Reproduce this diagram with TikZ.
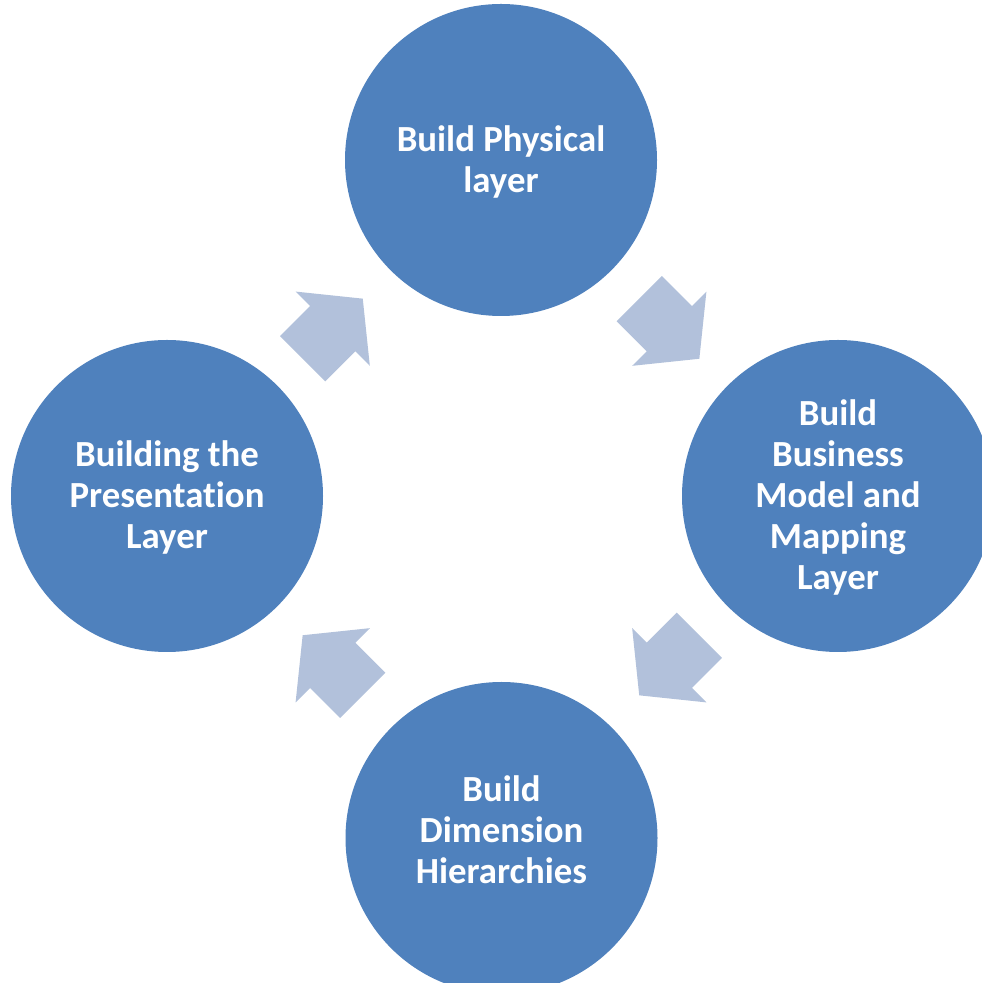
\documentclass[tikz,border=0pt]{standalone}
\usepackage{fontspec}
\setmainfont{Carlito}[Ligatures=NoCommon]
\usetikzlibrary{calc}
\definecolor{stageblue}{HTML}{4F81BD}
\definecolor{flowblue}{HTML}{B2C1DB}
\begin{document}
\begin{tikzpicture}[x=1pt,y=1pt,
  stage/.style={circle, fill=stageblue, draw=none, minimum size=312pt, inner sep=0pt},
  stagetext/.style={text=white, align=center, font=\fontsize{36.8}{41}\selectfont\bfseries, inner sep=0pt},
  flowarrow/.style={fill=flowblue, draw=none}]
\useasboundingbox (0,0) rectangle (982,983);
\clip (0,0) rectangle (982,983);
\fill[white] (0,0) rectangle (982,983);

% cycle centre
\coordinate (hub) at (501,486);

% the four stages
\node[stage] (phys) at (501,823) {};
\node[stage] (bmm)  at (838,487) {};
\node[stage] (dim)  at (501.5,145) {};
\node[stage] (pres) at (167,487) {};

\node[stagetext] (tphys) at ([yshift=-2pt]phys.center) {Build Physical\\layer};
\node[stagetext] (tbmm)  at ([yshift=-1pt]bmm.center) {Build\\Business\\Model and\\Mapping\\Layer};
\node[stagetext] (tdim)  at ([yshift=8pt]dim.center) {Build\\Dimension\\Hierarchies};
\node[stagetext] (tpres) at ([yshift=-1pt]pres.center) {Building the\\Presentation\\Layer};

% block arrows between the stages, running clockwise
\foreach \ang/\nm in {45/fa, -45/fb, -135/fc, 135/fd} {
  \coordinate (\nm) at ($(hub)+(\ang:238)$);
  \begin{scope}[shift={(\nm)}, rotate=\ang-90]
    \fill[flowarrow] (-42.5,-32) -- (0,-32) -- (0,-52.5) -- (42.5,0)
      -- (0,52.5) -- (0,32) -- (-42.5,32) -- cycle;
  \end{scope}
}
\end{tikzpicture}
\end{document}
